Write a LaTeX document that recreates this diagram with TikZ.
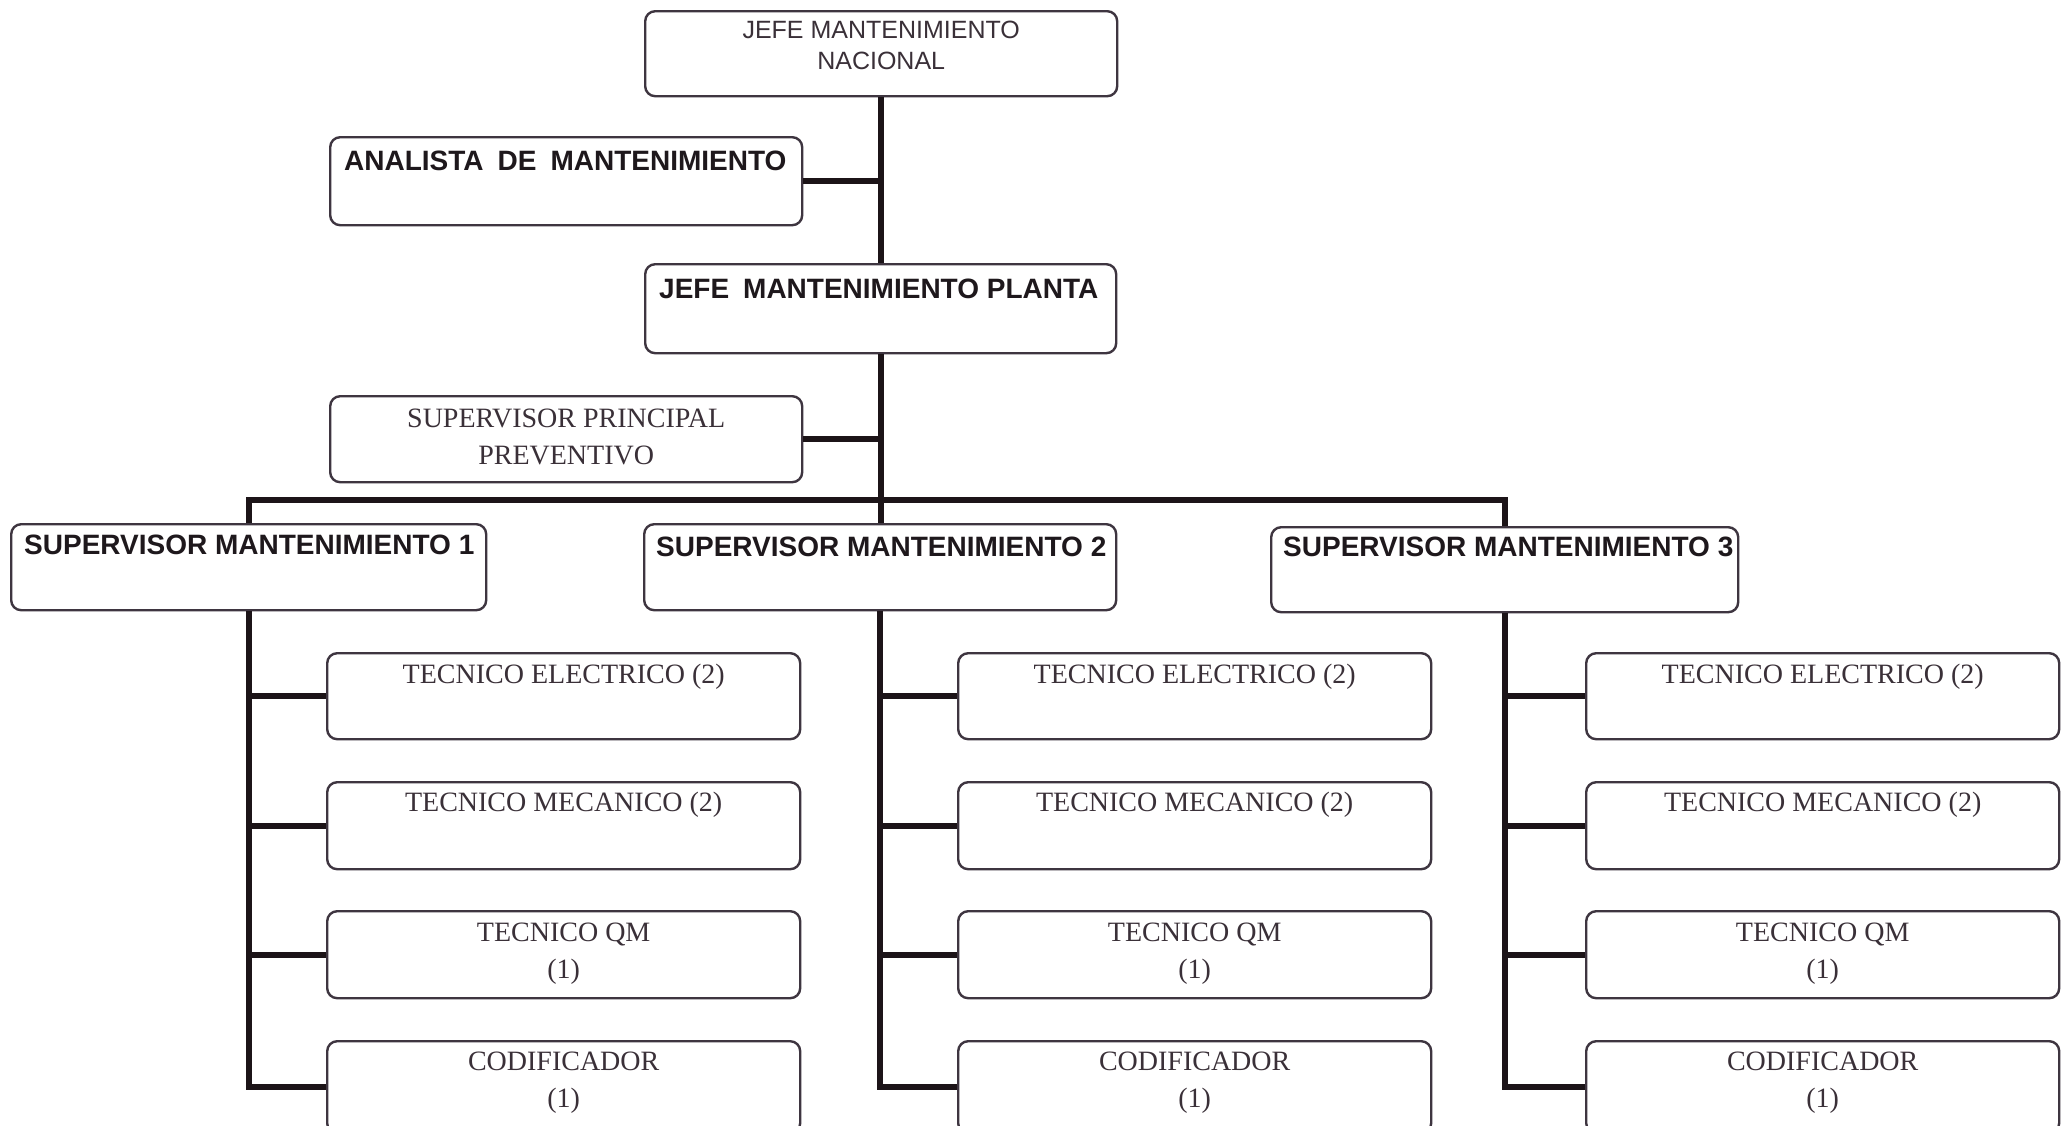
\documentclass[tikz,border=0pt]{standalone}
\usepackage{fontspec}
\setmainfont{Liberation Serif}
\setsansfont{Liberation Sans}
% fixed-size text area inside a box: width, height, content (top aligned)
\newcommand\cajatxt[3]{\parbox[c][#2][t]{#1}{#3}}
\begin{document}
\begin{tikzpicture}[x=0.5pt,y=-0.5pt,
  cargo/.style={draw=boxc, line width=1.2pt, rounded corners=5pt, fill=white,
                inner sep=0pt, anchor=north west, text=txtc},
  enlace/.style={draw=linec, line width=2.9pt, line join=miter},
  negrita/.style={font=\sffamily\bfseries\fontsize{14}{16}\selectfont},
  fina/.style={font=\sffamily\fontsize{12.5}{15.5}\selectfont},
  serif/.style={font=\rmfamily\fontsize{14}{18.4}\selectfont}]
\definecolor{boxc}{HTML}{3E3540}
\definecolor{linec}{HTML}{1C1418}
\definecolor{txtc}{HTML}{1E181C}
\definecolor{serifc}{HTML}{3A3038}
\useasboundingbox (0,0) rectangle (2062,1125);
\fill[white] (0,0) rectangle (2062,1125);

% upper management
\node[cargo, fina, text=serifc] (nac) at (644,10)
  {\cajatxt{236pt}{42.5pt}{\centering\rule{0pt}{13.5pt}JEFE MANTENIMIENTO\\NACIONAL}};
\node[cargo, negrita] (anal) at (329,136)
  {\cajatxt{236pt}{44pt}{\hspace*{7pt}\rule{0pt}{16.5pt}\mbox{ANALISTA\hspace{7pt}DE\hspace{7pt}MANTENIMIENTO}}};
\node[cargo, negrita] (planta) at (644,263)
  {\cajatxt{235.5pt}{44.5pt}{\hspace*{7pt}\rule{0pt}{17pt}\mbox{JEFE\hspace{7pt}MANTENIMIENTO PLANTA}}};
\node[cargo, serif, text=serifc] (sprin) at (329,395)
  {\cajatxt{236pt}{43pt}{\centering\rule{0pt}{15.8pt}SUPERVISOR PRINCIPAL\\PREVENTIVO}};

% supervisors
\node[cargo, negrita] (sup1) at (10,523)
  {\cajatxt{237.5pt}{43pt}{\hspace*{6.5pt}\rule{0pt}{15pt}\mbox{SUPERVISOR MANTENIMIENTO 1}}};
\node[cargo, negrita] (sup2) at (643,523)
  {\cajatxt{236pt}{43pt}{\hspace*{6pt}\rule{0pt}{16pt}\mbox{SUPERVISOR MANTENIMIENTO 2}}};
\node[cargo, negrita] (sup3) at (1270,526)
  {\cajatxt{233.5pt}{42.5pt}{\hspace*{6pt}\rule{0pt}{14.5pt}\mbox{SUPERVISOR MANTENIMIENTO 3}}};

% technicians of each supervisor
\foreach \c/\x in {1/326, 2/957, 3/1585} {
  \node[cargo, serif, text=serifc] (te\c) at (\x,652)
    {\cajatxt{236.5pt}{43pt}{\centering\rule{0pt}{15.3pt}TECNICO ELECTRICO (2)}};
  \node[cargo, serif, text=serifc] (tm\c) at (\x,781)
    {\cajatxt{236.5pt}{43.5pt}{\centering\rule{0pt}{14.6pt}TECNICO MECANICO (2)}};
  \node[cargo, serif, text=serifc] (tq\c) at (\x,910)
    {\cajatxt{236.5pt}{43.5pt}{\centering\rule{0pt}{15.3pt}TECNICO QM\\(1)}};
  \node[cargo, serif, text=serifc] (tc\c) at (\x,1040)
    {\cajatxt{236.5pt}{46pt}{\centering\rule{0pt}{14.7pt}CODIFICADOR\\(1)}};
}

% connectors
\coordinate (bus) at (0,500);
\draw[enlace] (nac.south) -- (nac.south |- planta.north);
\draw[enlace] (anal.east) -- (anal.east -| nac.south);
\draw[enlace] (planta.south) -- (planta.south |- sup2.north);
\draw[enlace] (sprin.east) -- (sprin.east -| planta.south);
\draw[enlace] (sup1.north) -- (sup1.north |- bus) -- (sup3.north |- bus) -- (sup3.north);
\foreach \c in {1,2,3} {
  \draw[enlace] (sup\c.south) |- (tc\c.west);
  \draw[enlace] (sup\c.south |- te\c.west) -- (te\c.west);
  \draw[enlace] (sup\c.south |- tm\c.west) -- (tm\c.west);
  \draw[enlace] (sup\c.south |- tq\c.west) -- (tq\c.west);
}
\end{tikzpicture}
\end{document}
